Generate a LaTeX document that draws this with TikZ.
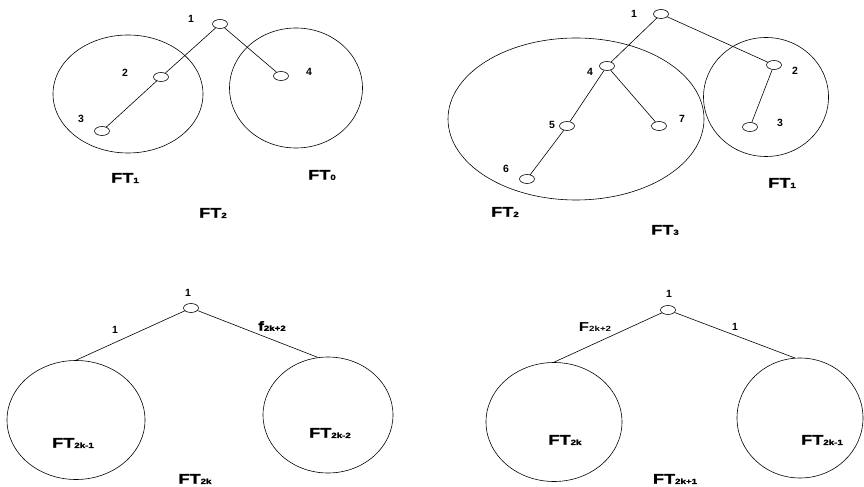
\documentclass[tikz,border=0pt]{standalone}
\usepackage{fontspec}
\setmainfont{Liberation Sans}
\newfontfamily\widebf[FakeStretch=1.3,FakeBold=1.5]{Liberation Sans Bold}
\newfontfamily\widerg[FakeStretch=1.3]{Liberation Sans Bold}
\usetikzlibrary{shapes.geometric}
\newcommand\subft[1]{\raisebox{-0.3pt}{\fontsize{7.5}{8}\selectfont #1}}
\begin{document}
\begin{tikzpicture}[x=1bp,y=-1bp,
  tn/.style={draw,ellipse,minimum width=15bp,minimum height=9bp,inner sep=0pt,line width=0.6pt},
  sub/.style={draw,ellipse,inner sep=0pt,line width=0.6pt},
  num/.style={font=\fontsize{10.5}{11}\selectfont\bfseries,inner sep=0pt},
  ftl/.style={font=\fontsize{14}{15}\selectfont\widebf,inner sep=0pt},
  edge/.style={line width=0.6pt}]
\useasboundingbox (0,0) rectangle (864,487);
% ---------- Panel 1 ----------
\node[sub,minimum width=150bp,minimum height=118bp] (p1L) at (128,94) {};
\node[sub,minimum width=133bp,minimum height=120bp] (p1R) at (296,88) {};
\node[tn] (a1) at (220,24) {};
\node[tn] (a2) at (161,77) {};
\node[tn] (a3) at (102,131) {};
\node[tn] (a4) at (281,76) {};
\node[num] (la1) at (191,19) {1};
\node[num] (la2) at (125,73) {2};
\node[num] (la3) at (81,119) {3};
\node[num] (la4) at (309,72) {4};
\draw[edge] (a1) -- (a2);
\draw[edge] (a2) -- (a3);
\draw[edge] (a1) -- (a4);
\node[ftl] (ft1a) at (125,178) {FT\subft{1}};
\node[ftl] (ft0a) at (322,175) {FT\subft{0}};
\node[ftl] (ft2a) at (213,213) {FT\subft{2}};
% ---------- Panel 2 ----------
\node[sub,minimum width=256bp,minimum height=162bp] (p2L) at (576,119) {};
\node[sub,minimum width=125bp,minimum height=119bp] (p2R) at (766,97) {};
\node[tn] (b1) at (661,14) {};
\node[tn] (b4) at (607,66) {};
\node[tn] (b2) at (774,65) {};
\node[tn] (b5) at (567,126) {};
\node[tn] (b7) at (659,126) {};
\node[tn] (b3) at (750,127) {};
\node[tn] (b6) at (527,179) {};
\node[num] (lb1) at (634,14) {1};
\node[num] (lb4) at (590,72) {4};
\node[num] (lb2) at (795,71) {2};
\node[num] (lb5) at (552,125) {5};
\node[num] (lb7) at (682,119) {7};
\node[num] (lb3) at (780,123) {3};
\node[num] (lb6) at (506,169) {6};
\draw[edge] (b1) -- (b4);
\draw[edge] (b1) -- (b2);
\draw[edge] (b4) -- (b5);
\draw[edge] (b4) -- (b7);
\draw[edge] (b5) -- (b6);
\draw[edge] (b2) -- (b3);
\node[ftl] (ft1b) at (782,183) {FT\subft{1}};
\node[ftl] (ft2b) at (505,212) {FT\subft{2}};
\node[ftl] (ft3b) at (665,230) {FT\subft{3}};
% ---------- Panel 3 ----------
\node[sub,minimum width=138bp,minimum height=119bp] (p3L) at (76,420) {};
\node[sub,minimum width=130bp,minimum height=116bp] (p3R) at (328,415) {};
\node[tn] (c1) at (191,308) {};
\node[num] (lc1) at (188,293) {1};
\draw[edge] (c1) -- (p3L.north);
\draw[edge] (c1) -- (p3R.100);
\node[num] (ec1) at (115,330) {1};
\node[ftl,font=\fontsize{13}{14}\selectfont\widebf] (ec2) at (272,326) {f\subft{2k+2}};
\node[ftl] (ft2k1) at (73,443) {FT\subft{2k-1}};
\node[ftl] (ft2k2) at (330,433) {FT\subft{2k-2}};
\node[ftl] (ft2k) at (195,479) {FT\subft{2k}};
% ---------- Panel 4 ----------
\node[sub,minimum width=136bp,minimum height=119bp] (p4L) at (554,422) {};
\node[sub,minimum width=126bp,minimum height=120bp] (p4R) at (800,418) {};
\node[tn] (d1) at (668,310) {};
\node[num] (ld1) at (669,294) {1};
\draw[edge] (d1) -- (p4L.north);
\draw[edge] (d1) -- (p4R.95);
\node[ftl,font=\fontsize{13}{14}\selectfont\widerg] (ed1) at (595,327) {F\subft{2k+2}};
\node[num] (ed2) at (735,327) {1};
\node[ftl] (ft2kb) at (565,440) {FT\subft{2k}};
\node[ftl] (ft2k1b) at (822,440) {FT\subft{2k-1}};
\node[ftl] (ft2k1c) at (675,479) {FT\subft{2k+1}};
\end{tikzpicture}
\end{document}
